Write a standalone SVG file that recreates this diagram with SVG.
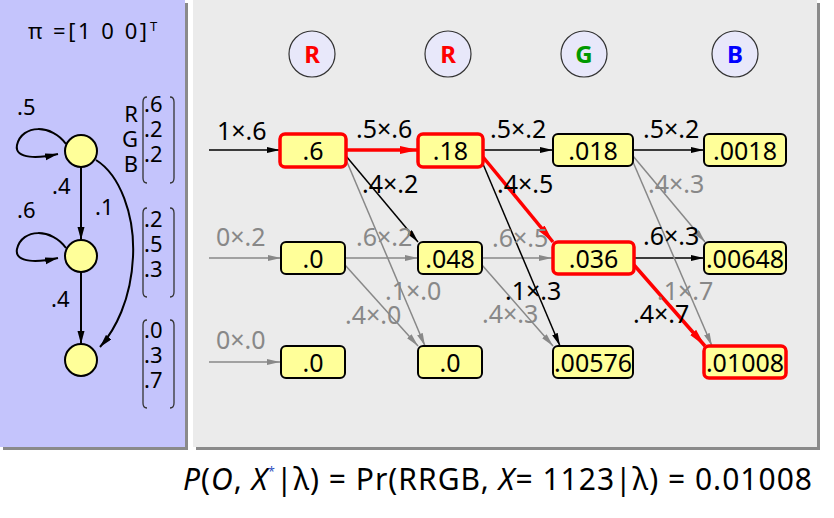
<svg xmlns="http://www.w3.org/2000/svg" width="834" height="518" viewBox="0 0 834 518">
<style>
text{font-family:'Noto Sans','Open Sans',sans-serif;}
.st{fill:#ffff99;stroke:#000;stroke-width:2;}
.ln{fill:none;stroke:#000;stroke-width:2;}
.lb{font-size:22px;fill:#000;}
.br{fill:none;stroke:#333;stroke-width:1.3;}
.obs{fill:#e8e8fa;stroke:#333;stroke-width:1.2;}
.ol{font-size:24px;font-weight:bold;text-anchor:middle;}
.bx{fill:#ffff99;stroke:#000;stroke-width:2;}
.bxr{fill:#ffff99;stroke:#ff0000;stroke-width:3.5;}
.bt{font-size:25px;text-anchor:middle;fill:#000;}
.e{stroke:#000;stroke-width:1.5;fill:none;marker-end:url(#ab);}
.g{stroke:#888;stroke-width:1.5;fill:none;marker-end:url(#ag);}
.r{stroke:#ff0000;stroke-width:3.5;fill:none;marker-end:url(#ar);}
.el{font-size:25px;fill:#000;}
.gl{font-size:25px;fill:#888;}
</style>
<defs>
<marker id="ab" markerUnits="userSpaceOnUse" markerWidth="14" markerHeight="8" refX="13" refY="3" orient="auto"><path d="M0,0 L13,3 L0,6 z" fill="#000"/></marker>
<marker id="ag" markerUnits="userSpaceOnUse" markerWidth="14" markerHeight="8" refX="13" refY="3" orient="auto"><path d="M0,0 L13,3 L0,6 z" fill="#888"/></marker>
<marker id="ar" markerUnits="userSpaceOnUse" markerWidth="20" markerHeight="10" refX="18" refY="4" orient="auto"><path d="M0,0 L18,4 L0,8 z" fill="#ff0000"/></marker>
<marker id="al" markerUnits="userSpaceOnUse" markerWidth="14" markerHeight="8" refX="13" refY="3.5" orient="auto"><path d="M0,0 L13,3.5 L0,7 z" fill="#000"/></marker>
</defs>

<!-- panels -->
<g id="left-panel">
<rect x="3" y="3" width="185" height="447" fill="#8a8a8a"/>
<rect x="0" y="0" width="185" height="447" fill="#c4c4fc"/>
</g>
<g id="right-panel">
<rect x="196" y="3" width="624" height="447" fill="#8a8a8a"/>
<rect x="193" y="0" width="624" height="447" fill="#ebebeb"/>
</g>

<!-- left model -->
<text x="28" y="39" font-size="22" textLength="119" lengthAdjust="spacing">π =[1 0 0]</text>
<text x="150" y="31" font-size="13">T</text>

<g id="hmm-connectors">
<line class="ln" x1="81" y1="167" x2="81" y2="240" marker-end="url(#al)"/>
<line class="ln" x1="81" y1="272" x2="81" y2="344" marker-end="url(#al)"/>
<path class="ln" d="M66,144 C52,124 22,124 17,145 C14,160 40,158 58,154" marker-end="url(#al)"/>
<path class="ln" d="M66,248 C52,228 22,228 17,249 C14,264 40,262 58,258" marker-end="url(#al)"/>
<path class="ln" d="M96,160 C120,175 135,215 133,257 C131,300 115,330 100,347" marker-end="url(#al)"/>
</g>
<g id="state1"><circle class="st" cx="81" cy="151" r="16"/></g>
<g id="state2"><circle class="st" cx="81" cy="256" r="16"/></g>
<g id="state3"><circle class="st" cx="81" cy="360" r="16"/></g>
<text class="lb" x="17" y="115">.5</text>
<text class="lb" x="52" y="194">.4</text>
<text class="lb" x="17" y="218">.6</text>
<text class="lb" x="95" y="215">.1</text>
<text class="lb" x="51" y="307">.4</text>

<g id="emissions">
<text class="lb" x="138" y="122" text-anchor="end">R</text>
<text class="lb" x="138" y="147" text-anchor="end">G</text>
<text class="lb" x="138" y="172" text-anchor="end">B</text>
<path class="br" d="M147,97 Q143,97 143,102 V178 Q143,183 147,183"/>
<path class="br" d="M170,97 Q174,97 174,102 V178 Q174,183 170,183"/>
<text class="lb" x="144" y="112">.6</text>
<text class="lb" x="144" y="137">.2</text>
<text class="lb" x="144" y="162">.2</text>
<path class="br" d="M147,208 Q143,208 143,213 V292 Q143,297 147,297"/>
<path class="br" d="M170,208 Q174,208 174,213 V292 Q174,297 170,297"/>
<text class="lb" x="144" y="227">.2</text>
<text class="lb" x="144" y="252">.5</text>
<text class="lb" x="144" y="277">.3</text>
<path class="br" d="M147,320 Q143,320 143,325 V403 Q143,408 147,408"/>
<path class="br" d="M170,320 Q174,320 174,325 V403 Q174,408 170,408"/>
<text class="lb" x="144" y="338">.0</text>
<text class="lb" x="144" y="363">.3</text>
<text class="lb" x="144" y="388">.7</text>
</g>

<!-- observations -->
<g id="obs1"><circle class="obs" cx="312" cy="54" r="23"/><text class="ol" x="312" y="63" fill="#ff0000">R</text></g>
<g id="obs2"><circle class="obs" cx="448" cy="54" r="23"/><text class="ol" x="448" y="63" fill="#ff0000">R</text></g>
<g id="obs3"><circle class="obs" cx="584" cy="54" r="23"/><text class="ol" x="584" y="63" fill="#009900">G</text></g>
<g id="obs4"><circle class="obs" cx="735" cy="54" r="23"/><text class="ol" x="735" y="63" fill="#0000ff">B</text></g>

<!-- trellis connectors -->
<g id="connectors">
<line class="e" x1="209" y1="150" x2="280" y2="150"/>
<line class="g" x1="209" y1="258" x2="281" y2="258"/>
<line class="g" x1="209" y1="362" x2="280" y2="362"/>
<line class="e" x1="483" y1="150" x2="553" y2="150"/>
<line class="e" x1="633" y1="150" x2="704" y2="150"/>
<line class="g" x1="345" y1="258" x2="418" y2="258"/>
<line class="g" x1="482" y1="258" x2="552" y2="258"/>
<line class="e" x1="634" y1="258" x2="704" y2="258"/>
<line class="g" x1="347" y1="162" x2="425" y2="346"/>
<line class="g" x1="345" y1="265" x2="418" y2="346"/>
<line class="g" x1="482" y1="265" x2="553" y2="346"/>
<line class="g" x1="633" y1="156" x2="705" y2="242"/>
<line class="g" x1="633" y1="162" x2="712" y2="346"/>
<line class="e" x1="346" y1="156" x2="418" y2="242"/>
<line class="e" x1="483" y1="164" x2="560" y2="346"/>
<line class="r" x1="346" y1="150" x2="418" y2="150"/>
<line class="r" x1="483" y1="157" x2="553" y2="242"/>
<line class="r" x1="634" y1="265" x2="705" y2="346"/>
</g>

<!-- trellis nodes -->
<g id="n11"><rect class="bxr" x="280" y="134" width="66" height="33" rx="5"/><text class="bt" x="313" y="160">.6</text></g>
<g id="n12"><rect class="bxr" x="418" y="134" width="65" height="33" rx="5"/><text class="bt" x="450.5" y="160">.18</text></g>
<g id="n13"><rect class="bx" x="553" y="134" width="80" height="32" rx="5"/><text class="bt" x="593" y="160">.018</text></g>
<g id="n14"><rect class="bx" x="704" y="134" width="82" height="32" rx="5"/><text class="bt" x="745" y="160">.0018</text></g>
<g id="n21"><rect class="bx" x="281" y="242" width="64" height="32" rx="5"/><text class="bt" x="313" y="268">.0</text></g>
<g id="n22"><rect class="bx" x="418" y="242" width="64" height="32" rx="5"/><text class="bt" x="450" y="268">.048</text></g>
<g id="n23"><rect class="bxr" x="553" y="242" width="81" height="32" rx="5"/><text class="bt" x="593.5" y="268">.036</text></g>
<g id="n24"><rect class="bx" x="704" y="242" width="82" height="32" rx="5"/><text class="bt" x="745" y="268">.00648</text></g>
<g id="n31"><rect class="bx" x="281" y="346" width="64" height="32" rx="5"/><text class="bt" x="313" y="372">.0</text></g>
<g id="n32"><rect class="bx" x="418" y="346" width="64" height="32" rx="5"/><text class="bt" x="450" y="372">.0</text></g>
<g id="n33"><rect class="bx" x="553" y="346" width="80" height="32" rx="5"/><text class="bt" x="593" y="372">.00576</text></g>
<g id="n34"><rect class="bxr" x="704" y="346" width="82" height="32" rx="5"/><text class="bt" x="745" y="372">.01008</text></g>

<!-- edge labels -->
<g id="edge-labels">
<text class="el" x="217" y="140">1×.6</text>
<text class="el" x="356" y="138">.5×.6</text>
<text class="el" x="490" y="138">.5×.2</text>
<text class="el" x="643" y="138">.5×.2</text>
<text class="el" x="362" y="193">.4×.2</text>
<text class="el" x="497" y="193">.4×.5</text>
<text class="gl" x="648" y="193">.4×.3</text>
<text class="gl" x="216" y="246">0×.2</text>
<text class="gl" x="356" y="246">.6×.2</text>
<text class="gl" x="492" y="247">.6×.5</text>
<text class="el" x="643" y="245">.6×.3</text>
<text class="gl" x="385" y="300">.1×.0</text>
<text class="el" x="505" y="300">.1×.3</text>
<text class="gl" x="657" y="300">.1×.7</text>
<text class="gl" x="345" y="324">.4×.0</text>
<text class="gl" x="482" y="323">.4×.3</text>
<text class="el" x="633" y="323">.4×.7</text>
<text class="gl" x="216" y="349">0×.0</text>
</g>

<!-- formula -->
<text x="183" y="490" font-size="30" textLength="629" lengthAdjust="spacing"><tspan font-style="italic">P</tspan>(<tspan font-style="italic">O</tspan>, <tspan font-style="italic">X</tspan><tspan font-size="12" dy="-14" fill="#3050c0">*</tspan><tspan dy="14">|λ)  =  Pr(RRGB, </tspan><tspan font-style="italic">X</tspan>=  1123|λ)  =  0.01008</text>
</svg>
